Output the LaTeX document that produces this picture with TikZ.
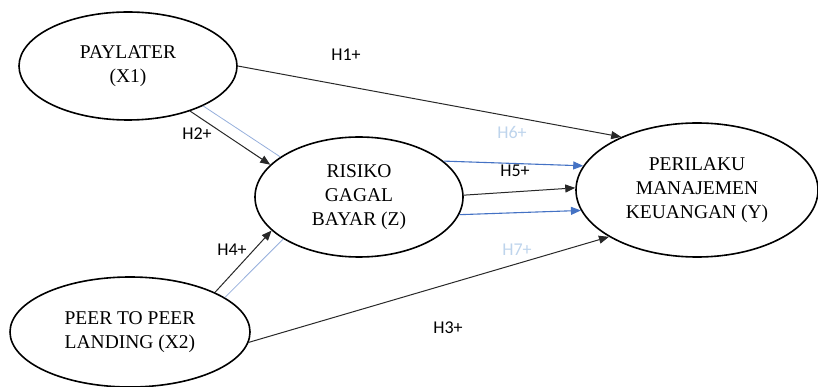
\documentclass[tikz,border=0pt]{standalone}
\usepackage{fontspec}
\setmainfont{Liberation Serif}
\newfontfamily\lblfont{Carlito}
\usetikzlibrary{shapes.geometric,arrows.meta}
\definecolor{arrowblue}{RGB}{68,114,196}
\definecolor{paleblue}{RGB}{150,175,220}
\definecolor{lblblue}{RGB}{190,212,236}
\definecolor{linegray}{RGB}{40,40,40}
\begin{document}
\begin{tikzpicture}[x=1pt,y=-1pt,
 construct/.style={ellipse, draw=black, line width=1.6pt, inner sep=0pt, align=center, text=black, font=\fontsize{19.5}{24}\selectfont},
 hyp/.style={-{Triangle[length=10pt,width=8pt]}, draw=linegray, line width=1pt},
 bluehyp/.style={-{Triangle[length=10pt,width=8pt]}, draw=arrowblue, line width=1.1pt},
 thinblue/.style={draw=paleblue, line width=0.8pt},
 lbl/.style={anchor=base, font=\lblfont\fontsize{18}{20}\selectfont, inner sep=0pt},
]
\useasboundingbox (0,0) rectangle (818,387);
\node[construct, minimum width=218pt, minimum height=108pt] (X1) at (128,66) {PAYLATER\\(X1)};
\node[construct, minimum width=208pt, minimum height=120pt] (Z) at (359,197) {RISIKO\\GAGAL\\BAYAR (Z)};
\node[construct, minimum width=242pt, minimum height=134pt] (Y) at (697,190) {PERILAKU\\MANAJEMEN\\KEUANGAN (Y)};
\node[construct, minimum width=240pt, minimum height=110pt] (X2) at (130,332) {PEER TO PEER\\LANDING (X2)};

% H1, H3
\draw[hyp] (X1.0) -- (Y.145);
\draw[hyp] (X2.-5) -- (Y.208);
% H2 and parallel blue
\draw[hyp] (X1.-36.6) -- (Z.160.8);
\draw[thinblue] (X1.-28) -- (Z.153.7);
% H4 and parallel blue
\draw[hyp] (X2.25.7) -- (Z.-159.2);
\draw[thinblue] (X2.20.4) -- (Z.-151.7);
% H5, H6, H7
\draw[hyp] (Z.1) -- (Y.179);
\draw[bluehyp] (Z.23.8) -- (Y.168.5);
\draw[bluehyp] (Z.-10.9) -- (Y.190.7);

% labels
\node[lbl] (l1) at (346,61) {H1+};
\node[lbl] (l2) at (197,140) {H2+};
\node[lbl, text=lblblue] (l6) at (512,139) {H6+};
\node[lbl] (l5) at (515,177) {H5+};
\node[lbl, text=lblblue] (l7) at (517,255) {H7+};
\node[lbl] (l4) at (232,255) {H4+};
\node[lbl] (l3) at (448,333) {H3+};
\end{tikzpicture}
\end{document}
